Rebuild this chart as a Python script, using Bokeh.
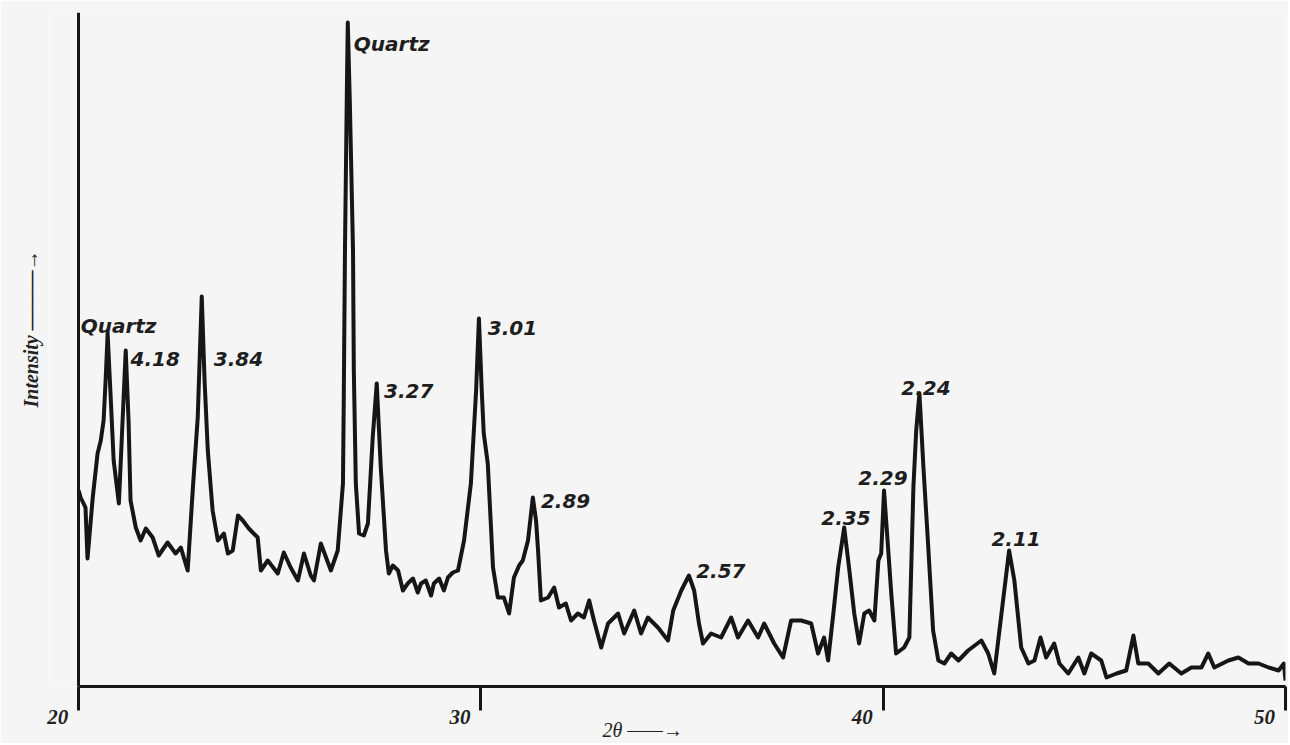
from bokeh.plotting import figure
from bokeh.models import Range1d, FixedTicker, Title, ColumnDataSource, LinearAxis
from bokeh.core.properties import value
from bokeh.embed import file_html
from bokeh.resources import INLINE

# ---------------- data ----------------
two_theta = [
    20.00, 20.05, 20.17, 20.22, 20.35, 20.47, 20.55, 20.62, 20.67, 20.72,
    20.80, 20.87, 21.00, 21.07, 21.17, 21.24, 21.29, 21.42, 21.54, 21.67,
    21.84, 21.99, 22.21, 22.41, 22.54, 22.71, 22.84, 22.96, 23.06, 23.13,
    23.21, 23.33, 23.46, 23.61, 23.71, 23.83, 23.96, 24.08, 24.23, 24.45,
    24.53, 24.70, 24.95, 25.10, 25.27, 25.45, 25.60, 25.77, 25.85, 26.02,
    26.27, 26.44, 26.57, 26.59, 26.62, 26.67, 26.69, 26.74, 26.82, 26.84,
    26.89, 26.97, 27.09, 27.19, 27.31, 27.41, 27.51, 27.64, 27.71, 27.81,
    27.94, 28.06, 28.18, 28.31, 28.43, 28.51, 28.63, 28.76, 28.83, 28.96,
    29.08, 29.18, 29.30, 29.43, 29.58, 29.75, 29.88, 29.95, 30.02,
    30.07, 30.17, 30.30, 30.42, 30.57, 30.70, 30.82, 30.95, 31.04, 31.17,
    31.24, 31.29, 31.37, 31.42, 31.49, 31.67, 31.82, 31.94, 32.11, 32.24,
    32.41, 32.56, 32.69, 32.81, 32.99, 33.16, 33.41, 33.56, 33.81, 33.98,
    34.15, 34.40, 34.65, 34.78, 34.98, 35.17, 35.30, 35.42, 35.52, 35.72,
    35.97, 36.22, 36.39, 36.64, 36.89, 37.04, 37.29, 37.51, 37.71, 37.96,
    38.21, 38.38, 38.53, 38.63, 38.76, 38.88, 39.03, 39.15, 39.28, 39.40,
    39.53, 39.65, 39.78, 39.88, 39.95, 40.02, 40.12, 40.20, 40.32, 40.52,
    40.65, 40.75, 40.82, 40.90, 41.00, 41.12, 41.24, 41.37, 41.52, 41.69,
    41.87, 42.11, 42.44, 42.61, 42.76, 42.94, 43.13, 43.26, 43.43, 43.61,
    43.76, 43.91, 44.05, 44.25, 44.38, 44.60, 44.85, 45.00, 45.17, 45.42,
    45.55, 45.80, 46.04, 46.22, 46.34, 46.59, 46.84, 47.11, 47.41, 47.66,
    47.91, 48.08, 48.23, 48.58, 48.83, 49.08, 49.33, 49.58, 49.83, 49.96,
    50.00,
]
intensity = [
    196, 189, 179, 128, 189, 233, 246, 266, 306, 353,
    286, 226, 183, 246, 336, 266, 186, 159, 146, 158,
    149, 131, 144, 133, 139, 116, 199, 269, 390, 306,
    236, 176, 146, 153, 133, 136, 171, 166, 158, 149,
    116, 126, 113, 134, 119, 106, 133, 111, 106, 143,
    116, 136, 203, 286, 436, 606, 664, 586, 436, 316,
    203, 153, 151, 163, 249, 303, 219, 136, 113, 121,
    116, 96, 103, 108, 94, 103, 106, 91, 103, 108,
    96, 109, 114, 116, 146, 203, 296, 368, 296,
    253, 223, 119, 89, 89, 73, 109, 121, 126, 146,
    171, 189, 166, 136, 86, 89, 99, 79, 83, 66,
    73, 69, 86, 66, 39, 63, 73, 53, 76, 53,
    69, 59, 46, 76, 96, 111, 96, 63, 43, 53,
    49, 69, 49, 66, 49, 63, 43, 29, 66, 66,
    63, 33, 49, 26, 73, 119, 159, 119, 73, 43,
    73, 76, 66, 126, 133, 196, 139, 93, 33, 39,
    49, 199, 256, 293, 219, 139, 56, 26, 23, 33,
    26, 36, 46, 33, 13, 73, 136, 106, 39, 23,
    26, 49, 29, 43, 23, 13, 29, 13, 33, 26,
    9, 13, 16, 51, 23, 23, 13, 23, 13, 19,
    19, 33, 19, 26, 29, 23, 23, 19, 16, 23,
    6,
]

peak_labels = ["Quartz", "4.18", "3.84", "Quartz", "3.27", "3.01",
               "2.89", "2.57", "2.35", "2.29", "2.24", "2.11"]
label_two_theta = [20.05, 21.29, 23.36, 26.84, 27.59, 30.17,
                   31.49, 35.35, 38.46, 39.38, 40.45, 42.69]
label_intensity = [361, 328, 328, 643, 296, 359,
                   186, 116, 169, 209, 299, 148]

x_ticks = [20, 30, 40, 50]
x_tick_labels = ["20", "30", "40", "50"]
x_title = "2\u03b8 \u2014\u2014\u2192"
y_title = "Intensity \u2014\u2014\u2014\u2192"

# ---------------- figure ----------------
BG = "#f5f5f5"
INK = "#161616"
SERIF = "Liberation Serif"
X_START, X_END = 19.3, 50.0   # a little room left of 20 for its label
LABEL_SHIFT = 0.52            # tick labels sit left of their ticks in the original

p = figure(width=1288, height=743, output_backend="svg", toolbar_location=None,
           x_range=Range1d(X_START, X_END), y_range=Range1d(0, 674),
           min_border_left=50, min_border_right=3, min_border_top=12,
           min_border_bottom=57)
p.background_fill_color = BG
p.border_fill_color = BG
p.outline_line_color = None
p.grid.visible = False

p.line(two_theta, intensity, line_color=INK, line_width=4, line_join="round")

src = ColumnDataSource(dict(x=label_two_theta, y=label_intensity, t=peak_labels))
p.text(x="x", y="y", text="t", source=src, text_font=value("DejaVu Sans"),
       text_font_style="bold italic", text_font_size="20px", text_color="#1e1e1e",
       text_align="left", text_baseline="alphabetic")

# x axis: line and ticks, from 20 to 50 only
xa = p.xaxis[0]
xa.bounds = (x_ticks[0], x_ticks[-1])
xa.ticker = FixedTicker(ticks=x_ticks)
xa.major_label_overrides = {t: "" for t in x_ticks}
xa.major_label_text_font_size = "0px"
xa.major_label_standoff = 0
xa.minor_tick_line_color = None
xa.major_tick_in = 0
xa.major_tick_out = 24
xa.major_tick_line_width = 3
xa.major_tick_line_color = INK
xa.axis_line_width = 3
xa.axis_line_color = INK

# x axis: tick labels (set left of the ticks, as in the original)
label_pos = [t - LABEL_SHIFT for t in x_ticks]
xl = LinearAxis(ticker=FixedTicker(ticks=label_pos),
                major_label_overrides=dict(zip(label_pos, x_tick_labels)),
                axis_line_color=None, major_tick_line_color=None,
                minor_tick_line_color=None, major_tick_out=0, major_tick_in=0,
                major_label_standoff=-1,
                major_label_text_font=SERIF,
                major_label_text_font_style="bold italic",
                major_label_text_font_size="21px",
                major_label_text_color="#222222")
p.add_layout(xl, "below")

# y axis (line only) standing at 2θ = 20
ya = p.yaxis[0]
ya.fixed_location = x_ticks[0]
ya.ticker = FixedTicker(ticks=[])
ya.minor_tick_line_color = None
ya.major_tick_line_color = None
ya.major_tick_out = 0
ya.major_tick_in = 0
ya.major_label_standoff = 0
ya.major_label_text_font_size = "0px"
ya.axis_line_width = 3
ya.axis_line_color = INK

p.add_layout(Title(text=x_title, align="left", offset=552, standoff=-20,
                   text_font=SERIF, text_font_style="italic",
                   text_font_size="20px", text_color="#222222"), "below")

p.add_layout(Title(text=y_title, align="left", offset=279, standoff=17,
                   text_font=SERIF, text_font_style="bold italic",
                   text_font_size="20px", text_color="#222222"), "left")

open("out.html", "w").write(file_html(p, INLINE))
